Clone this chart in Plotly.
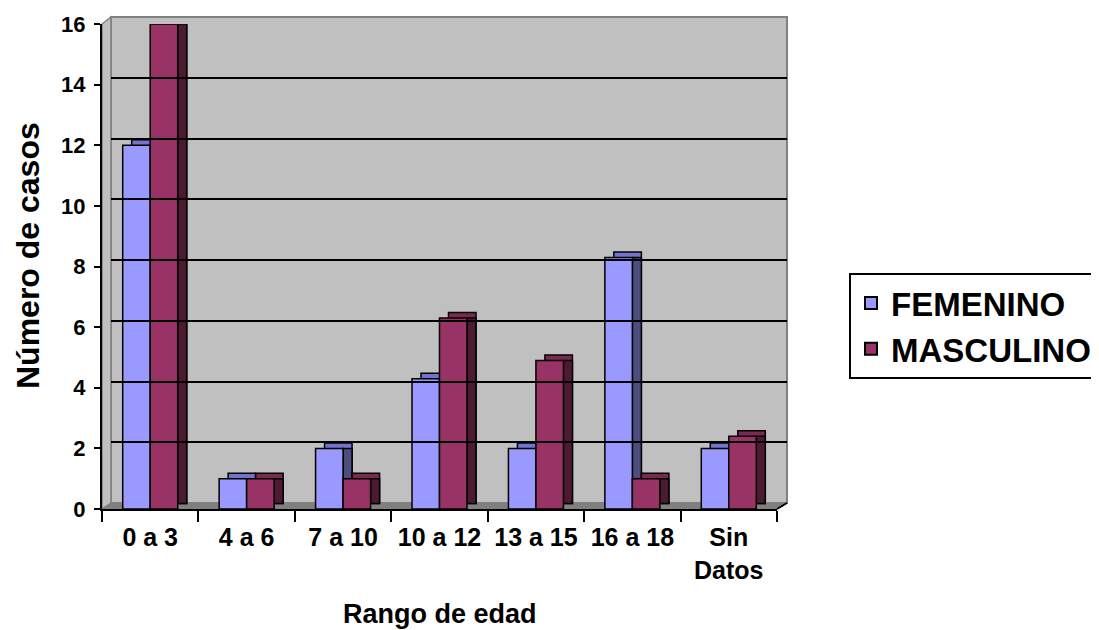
import plotly.graph_objects as go

# ---- data ----
categories = ["0 a 3", "4 a 6", "7 a 10", "10 a 12", "13 a 15", "16 a 18", "Sin<br>Datos"]
femenino = [12, 1, 2, 4.3, 2, 8.3, 2]
masculino = [16, 1, 1, 6.3, 4.9, 1, 2.4]
y_ticks = [0, 2, 4, 6, 8, 10, 12, 14, 16]
series_names = ["FEMENINO", "MASCULINO"]

# ---- style ----
FONT = "Liberation Sans, Arial, sans-serif"
OFF = 8                                  # page body margin in the browser
W, H = 1099 - OFF, 630 - OFF
ML = 102 - OFF                           # front-plane left edge (screen 102)
MT = 17 - OFF                            # wall top (screen 17)
PAPER_R = 787 - OFF                      # wall right (screen 787)
PAPER_B = 509 - OFF                      # front floor (screen 509)
MR, MB = W - PAPER_R, H - PAPER_B
PW, PH = PAPER_R - ML, PAPER_B - MT
DEPTH_X_PX, DEPTH_Y_PX = 9, 7
FRONT_XD = [0, (PW - 10) / PW]
FRONT_YD = [0, (PH - 7) / PH]
WALL_XD = [DEPTH_X_PX / PW, 1]
WALL_YD = [6 / PH, 1]

n = len(categories)
cat_px = (FRONT_XD[1] - FRONT_XD[0]) * PW / n
BW = 27.5 / cat_px               # bar width (category units)
DX = DEPTH_X_PX / cat_px         # depth shift in category units
yr = 16
DY = 5.5 * yr / ((FRONT_YD[1] - FRONT_YD[0]) * PH)   # depth shift in y units

styles = [
    dict(front="#9999ff", top="#7373cc", side="#4d4d80", off=-BW),
    dict(front="#993366", top="#7a2952", side="#4d1a33", off=0.0),
]

fig = go.Figure()

# empty trace for the back-wall subplot (holds the gridlines)
fig.add_trace(go.Scatter(x=[None], y=[None], xaxis="x2", yaxis="y2",
                         showlegend=False, hoverinfo="skip"))

for name, vals, st in zip(series_names, [femenino, masculino], styles):
    line = dict(color="black", width=1.5)
    # top face (shifted back rectangle)
    fig.add_trace(go.Bar(x=categories, y=vals, base=DY, offset=st["off"] + DX, width=BW,
                         marker=dict(color=st["top"], line=line),
                         showlegend=False, hoverinfo="skip"))
    # side face
    fig.add_trace(go.Bar(x=categories, y=[v - DY for v in vals], base=DY,
                         offset=st["off"] + BW, width=DX,
                         marker=dict(color=st["side"], line=line),
                         showlegend=False, hoverinfo="skip"))
    # front face
    fig.add_trace(go.Bar(x=categories, y=vals, offset=st["off"], width=BW, name=name,
                         marker=dict(color=st["front"], line=line)))

x0w = WALL_XD[0]
y0w = WALL_YD[0]
shapes = [
    # back wall
    dict(type="rect", xref="paper", yref="paper", x0=WALL_XD[0], x1=WALL_XD[1],
         y0=WALL_YD[0], y1=WALL_YD[1], fillcolor="#c0c0c0",
         line=dict(color="#808080", width=2), layer="below"),
    # left side wall
    dict(type="path", xref="paper", yref="paper",
         path=f"M 0 0 L 0 {FRONT_YD[1]} L {x0w} 1 L {x0w} {y0w} Z",
         fillcolor="#c0c0c0", line=dict(color="#808080", width=1.5), layer="below"),
    # floor
    dict(type="path", xref="paper", yref="paper",
         path=f"M 0 0 L {x0w} {y0w} L 1 {y0w} L {FRONT_XD[1]} 0 Z",
         fillcolor="#808080", line=dict(color="#808080", width=1), layer="below"),
    # floor right-end edge
    dict(type="line", xref="paper", yref="paper",
         x0=FRONT_XD[1], y0=0, x1=1, y1=y0w,
         line=dict(color="black", width=2)),
]


def px_x(sx):
    return (sx - OFF - ML) / PW


def px_y(sy):
    return (PAPER_B - (sy - OFF)) / PH


fig.update_layout(
    width=W, height=H,
    margin=dict(l=ML, r=MR, t=MT, b=MB, autoexpand=False),
    paper_bgcolor="white",
    plot_bgcolor="rgba(0,0,0,0)",
    barmode="overlay",
    font=dict(family=FONT, color="black"),
    shapes=shapes,
    xaxis=dict(domain=FRONT_XD, type="category", range=[-0.5, n - 0.5],
               showline=True, linecolor="black", linewidth=2,
               ticks="outside", tickson="boundaries", ticklen=11, tickwidth=2,
               tickcolor="black", showgrid=False, zeroline=False, automargin=False,
               ticklabelstandoff=5,
               tickfont=dict(size=25, weight="bold", family=FONT), anchor="y"),
    yaxis=dict(domain=FRONT_YD, range=[0, yr], tickvals=y_ticks,
               showline=True, linecolor="black", linewidth=2,
               ticks="outside", ticklen=6, tickwidth=2, tickcolor="black",
               showgrid=False, zeroline=False, automargin=False,
               ticklabelstandoff=4,
               tickfont=dict(size=22, weight="bold", family=FONT), anchor="x"),
    xaxis2=dict(domain=WALL_XD, range=[0, 1], visible=False, anchor="y2",
                automargin=False),
    yaxis2=dict(domain=WALL_YD, range=[0, yr], tickvals=y_ticks[1:-1],
                showgrid=True, gridcolor="black", gridwidth=2,
                showticklabels=False, ticks="", showline=False, zeroline=False,
                anchor="x2", automargin=False),
    legend=dict(x=px_x(849), y=px_y(273), xanchor="left", yanchor="top",
                bordercolor="black", borderwidth=2, bgcolor="white",
                font=dict(size=33, weight="bold", family=FONT),
                itemsizing="constant", tracegroupgap=0),
    annotations=[
        dict(text="Número de casos", xref="paper", yref="paper",
             x=px_x(28), y=px_y(256), textangle=-90,
             showarrow=False, font=dict(size=32, weight="bold", family=FONT),
             xanchor="center", yanchor="middle"),
        dict(text="Rango de edad", xref="paper", yref="paper",
             x=px_x(440), y=px_y(614),
             showarrow=False, font=dict(size=27, weight="bold", family=FONT),
             xanchor="center", yanchor="middle"),
    ],
)

fig.write_html("out.html")
